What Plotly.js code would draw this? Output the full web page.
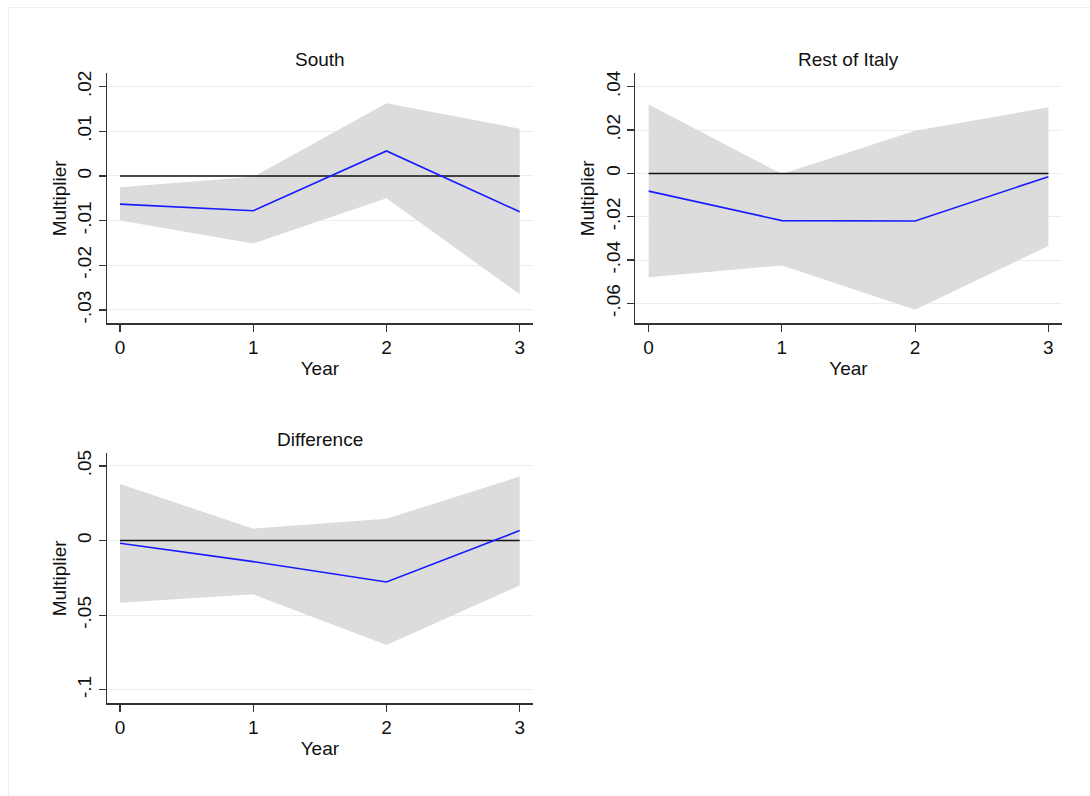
<!DOCTYPE html>
<html>
<head>
<meta charset="utf-8">
<script src="https://cdn.plot.ly/plotly-3.0.1.min.js"></script>
<style>html,body{margin:0;padding:0;background:#fff;}#chart{width:1090px;height:796px;}</style>
</head>
<body>
<div id="chart"></div>
<script>
// ---- data ----
const years = [0, 1, 2, 3];
const xTickLabels = ["0", "1", "2", "3"];

const southMean  = [-0.0063, -0.0078, 0.0056, -0.0080];
const southUpper = [-0.0025, -0.0002, 0.0163, 0.0106];
const southLower = [-0.0100, -0.0151, -0.0050, -0.0265];
const southTickVals = [-0.03, -0.02, -0.01, 0, 0.01, 0.02];
const southTickText = ["-.03", "-.02", "-.01", "0", ".01", ".02"];

const restMean  = [-0.0082, -0.0218, -0.0220, -0.0015];
const restUpper = [0.0318, -0.0003, 0.0197, 0.0305];
const restLower = [-0.0480, -0.0425, -0.0630, -0.0335];
const restTickVals = [-0.06, -0.04, -0.02, 0, 0.02, 0.04];
const restTickText = ["-.06", "-.04", "-.02", "0", ".02", ".04"];

const diffMean  = [-0.0018, -0.0141, -0.0277, 0.0067];
const diffUpper = [0.0380, 0.0080, 0.0147, 0.0429];
const diffLower = [-0.0417, -0.0360, -0.0699, -0.0301];
const diffTickVals = [-0.1, -0.05, 0, 0.05];
const diffTickText = ["-.1", "-.05", "0", ".05"];

const zeroLine = [0, 0, 0, 0];

const panelTitles = ["South", "Rest of Italy", "Difference"];

// ---- build ----
const W = 1090, H = 796;
const FONT = "Liberation Sans, Arial, Helvetica, sans-serif";
const BAND = "#dcdcdc", BLUE = "#1a1aff";
const FS = 19;

function panelTraces(xa, ya, mean, upper, lower) {
  return [
    {x: years, y: upper, xaxis: xa, yaxis: ya, mode: "lines", line: {width: 0, color: BAND}, hoverinfo: "skip", showlegend: false},
    {x: years, y: lower, xaxis: xa, yaxis: ya, mode: "lines", line: {width: 0, color: BAND}, fill: "tonexty", fillcolor: BAND, hoverinfo: "skip", showlegend: false},
    {x: years, y: zeroLine, xaxis: xa, yaxis: ya, mode: "lines", line: {width: 1.5, color: "#111"}, showlegend: false},
    {x: years, y: mean, xaxis: xa, yaxis: ya, mode: "lines", line: {width: 1.6, color: BLUE}, showlegend: false}
  ];
}

const traces = [].concat(
  panelTraces("x", "y", southMean, southUpper, southLower),
  panelTraces("x2", "y2", restMean, restUpper, restLower),
  panelTraces("x3", "y3", diffMean, diffUpper, diffLower)
);

function xAxis(domainPx, anchor) {
  return {
    domain: [domainPx[0] / W, domainPx[1] / W], anchor: anchor,
    range: [-0.1, 3.1], tickmode: "array", tickvals: years, ticktext: xTickLabels,
    showline: true, linecolor: "#333", linewidth: 1.2, showgrid: false, zeroline: false,
    ticks: "outside", ticklen: 7, tickcolor: "#333", tickwidth: 1.2,
    tickfont: {family: FONT, size: FS, color: "#111"},
    title: {text: "Year", font: {family: FONT, size: FS, color: "#111"}, standoff: 4},
    fixedrange: true
  };
}
function yAxis(domainPx, anchor, range, tv, tt) {
  return {
    domain: [1 - domainPx[1] / H, 1 - domainPx[0] / H], anchor: anchor,
    range: range, tickmode: "array", tickvals: tv, ticktext: tt, tickangle: -90,
    showline: true, linecolor: "#333", linewidth: 1.2, zeroline: false,
    showgrid: true, gridcolor: "#e6eff1", gridwidth: 1,
    ticks: "outside", ticklen: 7, tickcolor: "#333", tickwidth: 1.2,
    tickfont: {family: FONT, size: FS, color: "#111"},
    title: {text: "Multiplier", font: {family: FONT, size: FS, color: "#111"}, standoff: 2},
    fixedrange: true
  };
}

const leftX = [106.7, 533], rightX = [635.3, 1061.7];
const topY = [73.3, 323.3], botY = [453.3, 703.3];

function titleAnn(text, xPx, yPx) {
  return {text: text, x: xPx / W, y: 1 - yPx / H, xref: "paper", yref: "paper",
    xanchor: "center", yanchor: "middle", showarrow: false,
    font: {family: FONT, size: FS, color: "#111"}};
}

const layout = {
  width: W, height: H,
  margin: {l: 0, r: 0, t: 0, b: 0},
  paper_bgcolor: "#fff", plot_bgcolor: "#fff",
  font: {family: FONT, color: "#111"},
  showlegend: false,
  xaxis: xAxis(leftX, "y"),
  yaxis: yAxis(topY, "x", [-0.033, 0.023], southTickVals, southTickText),
  xaxis2: xAxis(rightX, "y2"),
  yaxis2: yAxis(topY, "x2", [-0.0692, 0.0462], restTickVals, restTickText),
  xaxis3: xAxis(leftX, "y3"),
  yaxis3: yAxis(botY, "x3", [-0.109, 0.0585], diffTickVals, diffTickText),
  annotations: [
    titleAnn(panelTitles[0], (leftX[0] + leftX[1]) / 2, 59),
    titleAnn(panelTitles[1], (rightX[0] + rightX[1]) / 2, 59),
    titleAnn(panelTitles[2], (leftX[0] + leftX[1]) / 2, 439)
  ],
  shapes: [
    {type: "line", xref: "paper", yref: "paper", x0: 8 / W, x1: 1, y0: 1 - 7.5 / H, y1: 1 - 7.5 / H, line: {color: "#eeeeee", width: 1}},
    {type: "line", xref: "paper", yref: "paper", x0: 8.5 / W, x1: 8.5 / W, y0: 0, y1: 1 - 7.5 / H, line: {color: "#eeeeee", width: 1}}
  ]
};

Plotly.newPlot("chart", traces, layout, {displayModeBar: false, staticPlot: true});
</script>
</body>
</html>
